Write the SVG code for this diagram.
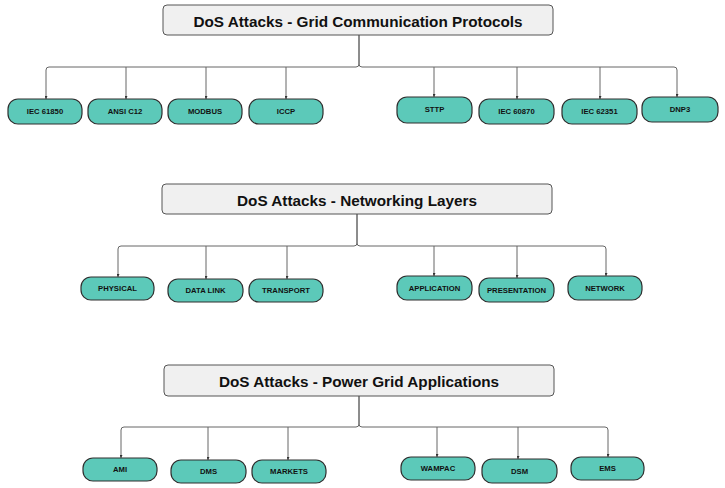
<svg xmlns="http://www.w3.org/2000/svg" width="725" height="488" viewBox="0 0 725 488">
<style>
.title rect{fill:#f0f0f0;stroke:#555;stroke-width:1}
.title text{font-family:"Liberation Sans",Arial,sans-serif;font-weight:bold;font-size:15.3px;fill:#111;text-anchor:middle;dominant-baseline:central}
.node rect{fill:#5cc9b9;stroke:#2f2f2f;stroke-width:1.2}
.node text{font-family:"Liberation Sans",Arial,sans-serif;font-weight:bold;font-size:7.7px;fill:#111;text-anchor:middle;dominant-baseline:central}
.conn path{fill:none;stroke:#666;stroke-width:1}
</style>
<defs>
<marker id="ah" viewBox="0 0 6 6" refX="6" refY="3" markerWidth="3" markerHeight="3" orient="auto">
<path d="M0,0 L6,3 L0,6 z" fill="#333"/>
</marker>
</defs>
<rect width="725" height="488" fill="#fff"/>

<g id="connectors" class="conn">
<path d="M359,35 V64 Q359,67 356,67 H49 Q46,67 46,70 V99" marker-end="url(#ah)"/>
<path d="M359,35 V64 Q359,67 362,67 H674 Q677,67 677,70 V97" marker-end="url(#ah)"/>
<path d="M126,67 V99" marker-end="url(#ah)"/>
<path d="M206,67 V99" marker-end="url(#ah)"/>
<path d="M286,67 V99" marker-end="url(#ah)"/>
<path d="M434,67 V97" marker-end="url(#ah)"/>
<path d="M517,67 V99" marker-end="url(#ah)"/>
<path d="M600,67 V99" marker-end="url(#ah)"/>
<path d="M357,214 V243 Q357,246 354,246 H121 Q118,246 118,249 V277" marker-end="url(#ah)"/>
<path d="M357,214 V243 Q357,246 360,246 H603 Q606,246 606,249 V276" marker-end="url(#ah)"/>
<path d="M206,246 V279" marker-end="url(#ah)"/>
<path d="M287,246 V279" marker-end="url(#ah)"/>
<path d="M434,246 V276" marker-end="url(#ah)"/>
<path d="M517,246 V278" marker-end="url(#ah)"/>
<path d="M359,396 V424 Q359,427 356,427 H124 Q121,427 121,430 V458" marker-end="url(#ah)"/>
<path d="M359,396 V424 Q359,427 362,427 H605 Q608,427 608,430 V457" marker-end="url(#ah)"/>
<path d="M208,427 V460" marker-end="url(#ah)"/>
<path d="M288,427 V460" marker-end="url(#ah)"/>
<path d="M437,427 V457" marker-end="url(#ah)"/>
<path d="M518,427 V459" marker-end="url(#ah)"/>
</g>

<g id="title1" class="title"><rect x="163" y="5" width="390" height="30" rx="4"/><text x="358" y="21">DoS Attacks - Grid Communication Protocols</text></g>
<g id="n-iec61850" class="node"><rect x="8" y="99" width="74" height="25" rx="10"/><text x="45" y="111.5">IEC 61850</text></g>
<g id="n-ansic12" class="node"><rect x="88" y="99" width="74" height="25" rx="10"/><text x="125" y="111.5">ANSI C12</text></g>
<g id="n-modbus" class="node"><rect x="168" y="99" width="74" height="25" rx="10"/><text x="205" y="111.5">MODBUS</text></g>
<g id="n-iccp" class="node"><rect x="249" y="99" width="74" height="25" rx="10"/><text x="286" y="111.5">ICCP</text></g>
<g id="n-sttp" class="node"><rect x="397" y="97" width="75" height="26" rx="10"/><text x="434.5" y="109.5">STTP</text></g>
<g id="n-iec60870" class="node"><rect x="479" y="99" width="75" height="25" rx="10"/><text x="516.5" y="111.5">IEC 60870</text></g>
<g id="n-iec62351" class="node"><rect x="562" y="99" width="75" height="25" rx="10"/><text x="599.5" y="111.5">IEC 62351</text></g>
<g id="n-dnp3" class="node"><rect x="642" y="97" width="76" height="25" rx="10"/><text x="680" y="109">DNP3</text></g>

<g id="title2" class="title"><rect x="162" y="184" width="390" height="30" rx="4"/><text x="357" y="200">DoS Attacks - Networking Layers</text></g>
<g id="n-physical" class="node"><rect x="81" y="277" width="73" height="23" rx="10"/><text x="117.5" y="288.5">PHYSICAL</text></g>
<g id="n-datalink" class="node"><rect x="168" y="279" width="75" height="23" rx="10"/><text x="205.5" y="290.5">DATA LINK</text></g>
<g id="n-transport" class="node"><rect x="249" y="279" width="74" height="23" rx="10"/><text x="286" y="290.5">TRANSPORT</text></g>
<g id="n-application" class="node"><rect x="397" y="276" width="75" height="24" rx="10"/><text x="434.5" y="288">APPLICATION</text></g>
<g id="n-presentation" class="node"><rect x="479" y="278" width="75" height="24" rx="10"/><text x="516.5" y="290">PRESENTATION</text></g>
<g id="n-network" class="node"><rect x="568" y="276" width="74" height="24" rx="10"/><text x="605" y="288">NETWORK</text></g>

<g id="title3" class="title"><rect x="164" y="365" width="390" height="31" rx="4"/><text x="359" y="381">DoS Attacks - Power Grid Applications</text></g>
<g id="n-ami" class="node"><rect x="83" y="458" width="74" height="23" rx="10"/><text x="120" y="469.5">AMI</text></g>
<g id="n-dms" class="node"><rect x="171" y="460" width="75" height="23" rx="10"/><text x="208.5" y="471.5">DMS</text></g>
<g id="n-markets" class="node"><rect x="252" y="460" width="74" height="23" rx="10"/><text x="289" y="471.5">MARKETS</text></g>
<g id="n-wampac" class="node"><rect x="401" y="457" width="74" height="23" rx="10"/><text x="438" y="468.5">WAMPAC</text></g>
<g id="n-dsm" class="node"><rect x="482" y="459" width="75" height="24" rx="10"/><text x="519.5" y="471">DSM</text></g>
<g id="n-ems" class="node"><rect x="571" y="457" width="73" height="23" rx="10"/><text x="607.5" y="468.5">EMS</text></g>
</svg>
